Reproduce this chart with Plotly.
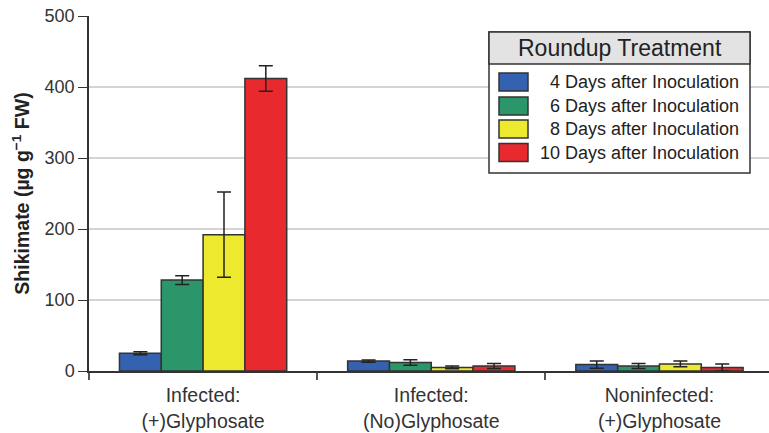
import plotly.graph_objects as go

categories = ["Infected:<br>(+)Glyphosate", "Infected:<br>(No)Glyphosate", "Noninfected:<br>(+)Glyphosate"]
series_names = ["4 Days after Inoculation", "6 Days after Inoculation",
                "8 Days after Inoculation", "10 Days after Inoculation"]
values_4d = [25, 14, 9]
values_6d = [128, 12, 7]
values_8d = [192, 5, 10]
values_10d = [412, 7, 5]
err_4d = [2, 1.5, 5]
err_6d = [6, 4, 3.5]
err_8d = [60, 2, 4]
err_10d = [18, 3.5, 5]
colors = ["#3562b0", "#2a966a", "#ece92e", "#e8292e"]
y_ticks = [0, 100, 200, 300, 400, 500]

FONT = "Liberation Sans, Arial, sans-serif"
W, H = 769, 433
ML, MR, MT, MB = 89, 0, 16, 62
PW, PH = W - ML - MR, H - MT - MB


def px(x):
    return (x - ML) / PW


def py(y):
    return (H - MB - y) / PH


fig = go.Figure()
for name, vals, errs, col in zip(series_names, [values_4d, values_6d, values_8d, values_10d],
                                 [err_4d, err_6d, err_8d, err_10d], colors):
    fig.add_trace(go.Bar(
        x=categories, y=vals, name=name, showlegend=False,
        marker=dict(color=col, line=dict(color="#333333", width=1.5)),
        error_y=dict(type="data", array=errs, visible=True, color="#222222",
                     thickness=1.5, width=7),
    ))

# legend box with header
bx0, bx1, by_top, by_head, by_bot = 489, 750, 32, 64, 173
fig.add_shape(type="rect", xref="paper", yref="paper", x0=px(bx0), x1=px(bx1), y0=py(by_bot), y1=py(by_top),
              fillcolor="white", line=dict(color="#333333", width=1.5), layer="above")
fig.add_shape(type="rect", xref="paper", yref="paper", x0=px(bx0), x1=px(bx1), y0=py(by_head), y1=py(by_top),
              fillcolor="#e3e3e3", line=dict(color="#333333", width=1.5), layer="above")
fig.add_annotation(xref="paper", yref="paper", x=px((bx0 + bx1) / 2), y=py((by_top + by_head) / 2),
                   text="Roundup Treatment", showarrow=False,
                   font=dict(family=FONT, size=23, color="#222222"),
                   xanchor="center", yanchor="middle")
row_centers = [82, 106, 129, 152.5]
for name, col, yc in zip(series_names, colors, row_centers):
    fig.add_shape(type="rect", xref="paper", yref="paper",
                  x0=px(499), x1=px(528), y0=py(yc + 9), y1=py(yc - 9),
                  fillcolor=col, line=dict(color="#333333", width=1.5), layer="above")
    fig.add_annotation(xref="paper", yref="paper", x=px(741), y=py(yc),
                       text=name, showarrow=False,
                       font=dict(family=FONT, size=18, color="#222222"),
                       xanchor="right", yanchor="middle")

fig.update_layout(
    width=W, height=H,
    margin=dict(l=ML, r=MR, t=MT, b=MB),
    plot_bgcolor="white", paper_bgcolor="white",
    barmode="group", bargap=0.267, bargroupgap=0,
    font=dict(family=FONT, size=17, color="#333333"),
    showlegend=False,
    xaxis=dict(range=[-0.5, 2.48], showline=True, linecolor="#333333", linewidth=1.5,
               ticks="outside", tickson="boundaries", ticklen=7, tickcolor="#555555",
               tickwidth=1.5, showgrid=False, ticklabelstandoff=6,
               tickfont=dict(size=19.5, color="#333333")),
    yaxis=dict(range=[0, 500], tickvals=y_ticks, showline=True, linecolor="#333333",
               linewidth=1.5, ticks="outside", ticklen=9, tickcolor="#333333",
               showgrid=True, gridcolor="#d4d4d4", gridwidth=1.5, zeroline=False,
               tickfont=dict(size=18, color="#333333"),
               title=dict(text="<b>Shikimate (µg g<sup>−1</sup> FW)</b>",
                          font=dict(size=19.5, color="#222222"), standoff=10)),
)

fig.write_html("out.html")
